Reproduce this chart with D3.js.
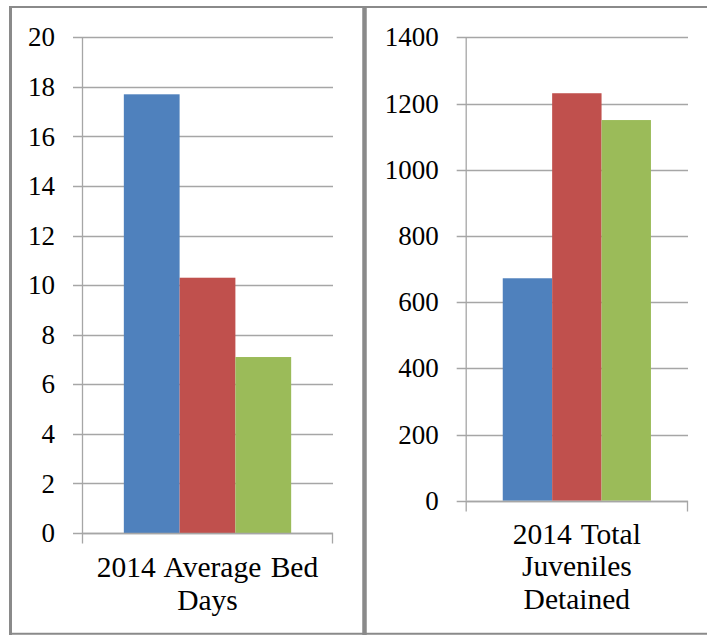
<!DOCTYPE html>
<html>
<head>
<meta charset="utf-8">
<script src="https://cdn.jsdelivr.net/npm/d3@7/dist/d3.min.js"></script>
<style>
  html, body { margin: 0; padding: 0; background: #fff; }
  svg { display: block; }
  text { font-family: "Liberation Serif", "Times New Roman", serif; fill: #000; }
</style>
</head>
<body>
<svg id="chart" width="707" height="635"></svg>
<script>
// Series (one bar per series inside each panel's single category)
const series = ["Series A", "Series B", "Series C"];
const seriesColors = ["#4F81BD", "#C0504D", "#9BBB59"];

// Left panel: average bed days
const bedDaysCategory = ["2014 Average Bed", "Days"];
const bedDaysValues = [17.7, 10.3, 7.1];
const bedDaysTicks = [0, 2, 4, 6, 8, 10, 12, 14, 16, 18, 20];

// Right panel: total juveniles detained
const detainedCategory = ["2014 Total", "Juveniles", "Detained"];
const detainedValues = [672, 1231, 1150];
const detainedTicks = [0, 200, 400, 600, 800, 1000, 1200, 1400];

const svg = d3.select("#chart");
const gridColor = "#a6a6a6";
const frameColor = "#8a8a8a";

// Panel frames
const frame = svg.append("g").attr("fill", "none").attr("stroke", frameColor);
frame.append("line").attr("x1", 10.5).attr("x2", 10.5).attr("y1", 6).attr("y2", 635).attr("stroke-width", 3);
frame.append("line").attr("x1", 9).attr("x2", 707).attr("y1", 7).attr("y2", 7).attr("stroke-width", 2);
frame.append("line").attr("x1", 9).attr("x2", 707).attr("y1", 633.7).attr("y2", 633.7).attr("stroke-width", 2);
frame.append("line").attr("x1", 364.5).attr("x2", 364.5).attr("y1", 6).attr("y2", 635).attr("stroke-width", 4.5);

function drawPanel(cfg) {
  const g = svg.append("g");
  const y = d3.scaleLinear().domain([0, d3.max(cfg.ticks)]).range([cfg.bottom, cfg.top]);
  const xCat = d3.scaleBand().domain([cfg.label.join(" ")]).range([cfg.left, cfg.right]).padding(0);
  const xSeries = d3.scaleBand().domain(series)
    .range([xCat(cfg.label.join(" ")), xCat(cfg.label.join(" ")) + xCat.bandwidth()])
    .paddingInner(0).paddingOuter(0.75);

  // Horizontal gridlines with left tick stubs
  g.append("g").selectAll("line").data(cfg.ticks).join("line")
    .attr("x1", cfg.left - 9).attr("x2", cfg.right)
    .attr("y1", d => Math.round(y(d)) + 0.5).attr("y2", d => Math.round(y(d)) + 0.5)
    .attr("stroke", gridColor).attr("stroke-width", 1.3);

  // Bars
  g.append("g").selectAll("rect").data(cfg.values).join("rect")
    .attr("x", (d, i) => xSeries(series[i]))
    .attr("width", xSeries.bandwidth())
    .attr("y", d => y(d))
    .attr("height", d => y(0) - y(d))
    .attr("fill", (d, i) => seriesColors[i]);

  // Value axis line
  g.append("line")
    .attr("x1", cfg.left + 0.5).attr("x2", cfg.left + 0.5)
    .attr("y1", y(d3.max(cfg.ticks))).attr("y2", y(0))
    .attr("stroke", gridColor).attr("stroke-width", 1.3);

  // Category axis line with end ticks
  const base = Math.round(y(0)) + 0.5;
  g.append("path")
    .attr("d", `M${cfg.left + 0.5},${base + 10}V${base}H${cfg.right - 0.5}V${base + 10}`)
    .attr("fill", "none").attr("stroke", gridColor).attr("stroke-width", 1.3);

  // Tick labels
  g.append("g").selectAll("text").data(cfg.ticks).join("text")
    .attr("x", cfg.left - 27).attr("y", d => y(d)).attr("dy", "0.34em")
    .attr("text-anchor", "end").attr("font-size", 27)
    .text(d => d);

  // Category label, one tspan per wrapped line
  const cx = xCat(cfg.label.join(" ")) + xCat.bandwidth() / 2;
  g.append("text").attr("text-anchor", "middle").attr("font-size", 29.5)
    .attr("word-spacing", 2)
    .selectAll("tspan").data(cfg.label).join("tspan")
    .attr("x", cx).attr("y", (d, i) => cfg.labelY + i * 32.5)
    .text(d => d);
}

drawPanel({
  left: 82, right: 333, top: 37.3, bottom: 533,
  ticks: bedDaysTicks, values: bedDaysValues, label: bedDaysCategory, labelY: 577
});

drawPanel({
  left: 465.7, right: 688, top: 37.3, bottom: 500.7,
  ticks: detainedTicks, values: detainedValues, label: detainedCategory, labelY: 543.5
});
</script>
</body>
</html>
